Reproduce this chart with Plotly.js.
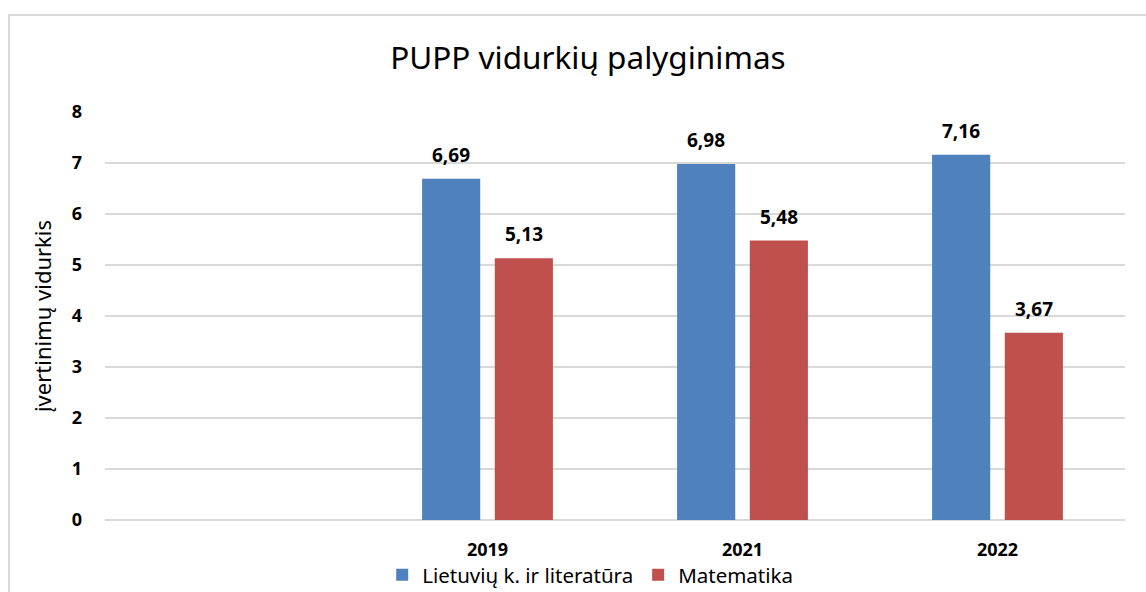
<!DOCTYPE html>
<html>
<head>
<meta charset="utf-8">
<script src="https://cdn.plot.ly/plotly-3.0.1.min.js"></script>
<style>
  html, body { margin: 0; padding: 0; background: #fff; }
  #wrap { position: relative; width: 1146px; height: 592px; overflow: hidden; }
  #chart { width: 1146px; height: 592px; }
  #frame { position: absolute; left: 8px; top: 14px; width: 1200px; height: 700px;
           border: 2px solid #d9d9d9; pointer-events: none; box-sizing: border-box; }
</style>
</head>
<body>
<div id="wrap">
  <div id="chart"></div>
  <div id="frame"></div>
</div>
<script>
const categories = ['', '2019', '2021', '2022'];
const seriesNames = ['Lietuvių k. ir literatūra', 'Matematika'];
const lietuviu = [null, 6.69, 6.98, 7.16];
const matematika = [null, 5.13, 5.48, 3.67];
const colors = ['#4f81bd', '#c0504d'];
const yTicks = [0, 1, 2, 3, 4, 5, 6, 7, 8];

const xIdx = categories.map((c, i) => i);
const font = "'Noto Sans', 'Open Sans', sans-serif";

const traces = [lietuviu, matematika].map((vals, k) => ({
  type: 'bar',
  name: seriesNames[k],
  x: xIdx,
  y: vals,
  marker: { color: colors[k] },
  hoverinfo: 'skip'
}));

// bar centre offset from the category centre (in category units)
const offsets = [-0.5 * (1 - 0.43) / 2, 0.5 * (1 - 0.43) / 2];
const annotations = [];
[lietuviu, matematika].forEach((vals, k) => {
  vals.forEach((v, i) => {
    if (v === null) return;
    annotations.push({
      x: i + offsets[k], y: v, xref: 'x', yref: 'y',
      text: v.toFixed(2).replace('.', ','),
      showarrow: false, yanchor: 'bottom', yshift: 9,
      font: { family: font, size: 19, color: '#000', weight: 'bold' }
    });
  });
});

const layout = {
  width: 1146, height: 592,
  margin: { l: 105, r: 21, t: 112, b: 72 },
  paper_bgcolor: '#fff', plot_bgcolor: '#fff',
  separators: ', ',
  title: {
    text: 'PUPP vidurkių palyginimas',
    font: { family: font, size: 31.5, color: '#000' },
    x: 0.513, xanchor: 'center', xref: 'container', y: 0.902, yanchor: 'middle'
  },
  barmode: 'group',
  bargap: 0.43,
  bargroupgap: 0.2,
  xaxis: {
    range: [-0.5, categories.length - 0.5],
    tickvals: xIdx, ticktext: categories,
    showgrid: false, zeroline: false, showline: false, ticks: '',
    tickfont: { family: font, size: 18, color: '#000', weight: 'bold' },
    ticklabelstandoff: 17, fixedrange: true, automargin: false
  },
  yaxis: {
    range: [0, 8], tickvals: yTicks,
    showgrid: true, gridcolor: '#d9d9d9', gridwidth: 1.5,
    zeroline: true, zerolinecolor: '#d9d9d9', zerolinewidth: 1.5,
    showline: false, ticks: '',
    tickfont: { family: font, size: 18, color: '#000', weight: 'bold' },
    ticklabelstandoff: 22,
    title: { text: 'įvertinimų vidurkis', font: { family: font, size: 22, color: '#000' }, standoff: 14 },
    fixedrange: true, automargin: false
  },
  showlegend: true,
  legend: {
    orientation: 'h', xref: 'container', x: 0.515, xanchor: 'center',
    yref: 'container', y: 0.029, yanchor: 'middle',
    bgcolor: 'rgba(0,0,0,0)',
    font: { family: font, size: 20.5, color: '#000' },
    itemwidth: 30, traceorder: 'normal'
  },
  annotations: annotations
};

Plotly.newPlot('chart', traces, layout, { displayModeBar: false, staticPlot: true });
</script>
</body>
</html>
